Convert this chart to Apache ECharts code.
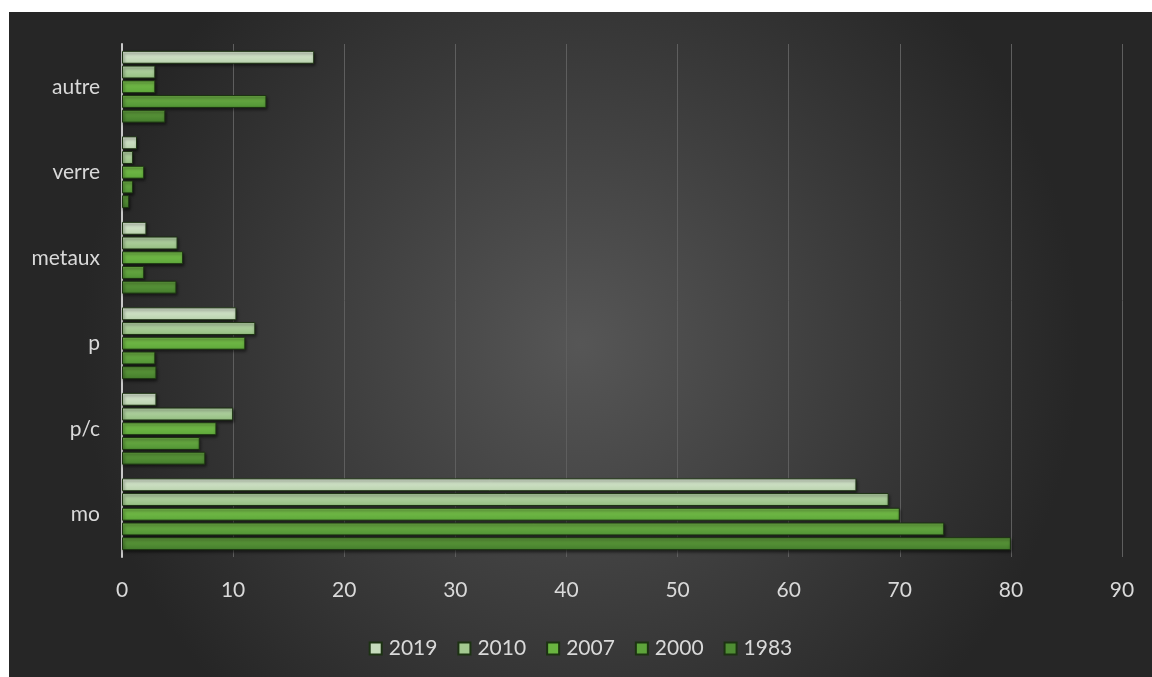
<!DOCTYPE html>
<html>
<head>
<meta charset="utf-8">
<script src="https://cdn.jsdelivr.net/npm/echarts@6/dist/echarts.min.js"></script>
<style>
html,body{margin:0;padding:0;background:#fff;width:1152px;height:677px;overflow:hidden;}
#c{position:absolute;left:9px;top:12px;width:1143px;height:665px;}
</style>
</head>
<body>
<div id="c"></div>
<script>
const categories = ['mo', 'p/c', 'p', 'metaux', 'verre', 'autre'];
const seriesNames = ['2019', '2010', '2007', '2000', '1983'];
const v2019 = [66.1, 3.1, 10.3, 2.2, 1.35, 17.3];
const v2010 = [69.0, 10.0, 12.0, 5.0, 1.0, 3.0];
const v2007 = [70.0, 8.5, 11.1, 5.5, 2.0, 3.0];
const v2000 = [74.0, 7.0, 3.0, 2.0, 1.0, 13.0];
const v1983 = [80.0, 7.5, 3.1, 4.9, 0.65, 3.9];
const xTicks = [0, 10, 20, 30, 40, 50, 60, 70, 80, 90];

const values = [v2019, v2010, v2007, v2000, v1983];
const colors = [
  ['#dbe8d4', '#b9d3ad'],
  ['#bcd8ae', '#94bf80'],
  ['#79c04c', '#5ea83a'],
  ['#6fb046', '#519435'],
  ['#62a03e', '#447d2c']
];
const legendColors = ['#c6dcbc', '#a3c990', '#6ab540', '#5ea43b', '#4f8d33'];

const chart = echarts.init(document.getElementById('c'));
const font = 'Lato, "Open Sans", sans-serif';
chart.setOption({
  backgroundColor: new echarts.graphic.RadialGradient(0.5, 0.5, 0.75, [
    {offset: 0, color: '#565656'},
    {offset: 1, color: '#262626'}
  ]),
  animation: false,
  grid: {left: 113, right: 30, top: 32, bottom: 120},
  legend: {
    top: 621,
    left: 'center',
    data: seriesNames.map((n, i) => ({name: n, itemStyle: {color: legendColors[i]}})),
    icon: 'rect',
    itemWidth: 12,
    itemHeight: 12,
    itemGap: 20,
    textStyle: {color: '#d9d9d9', fontSize: 21, fontFamily: font, padding: [0, 0, 0, 2]}
  },
  xAxis: {
    type: 'value',
    min: 0,
    max: 90,
    interval: 10,
    axisLine: {show: false},
    axisTick: {show: false},
    splitLine: {show: true, lineStyle: {color: '#5e5e5e', width: 1}},
    axisLabel: {
      color: '#d9d9d9', fontSize: 21, fontFamily: font, margin: 23,
      formatter: v => xTicks.includes(v) ? String(v) : ''
    }
  },
  yAxis: {
    type: 'category',
    data: categories,
    axisLine: {show: true, lineStyle: {color: '#c8c8c8', width: 2}},
    axisTick: {show: false},
    axisLabel: {color: '#d9d9d9', fontSize: 21, fontFamily: font, margin: 22}
  },
  series: seriesNames.map((n, i) => ({
    name: n,
    type: 'bar',
    data: values[i],
    barCategoryGap: '16%',
    barGap: '14%',
    itemStyle: {
      color: new echarts.graphic.LinearGradient(0, 0, 0, 1, [
        {offset: 0, color: colors[i][0]},
        {offset: 1, color: colors[i][1]}
      ]),
      borderColor: '#1c3212',
      borderWidth: 1,
      shadowColor: 'rgba(0,0,0,0.6)',
      shadowBlur: 3,
      shadowOffsetX: 1,
      shadowOffsetY: 2
    }
  }))
});
</script>
</body>
</html>
